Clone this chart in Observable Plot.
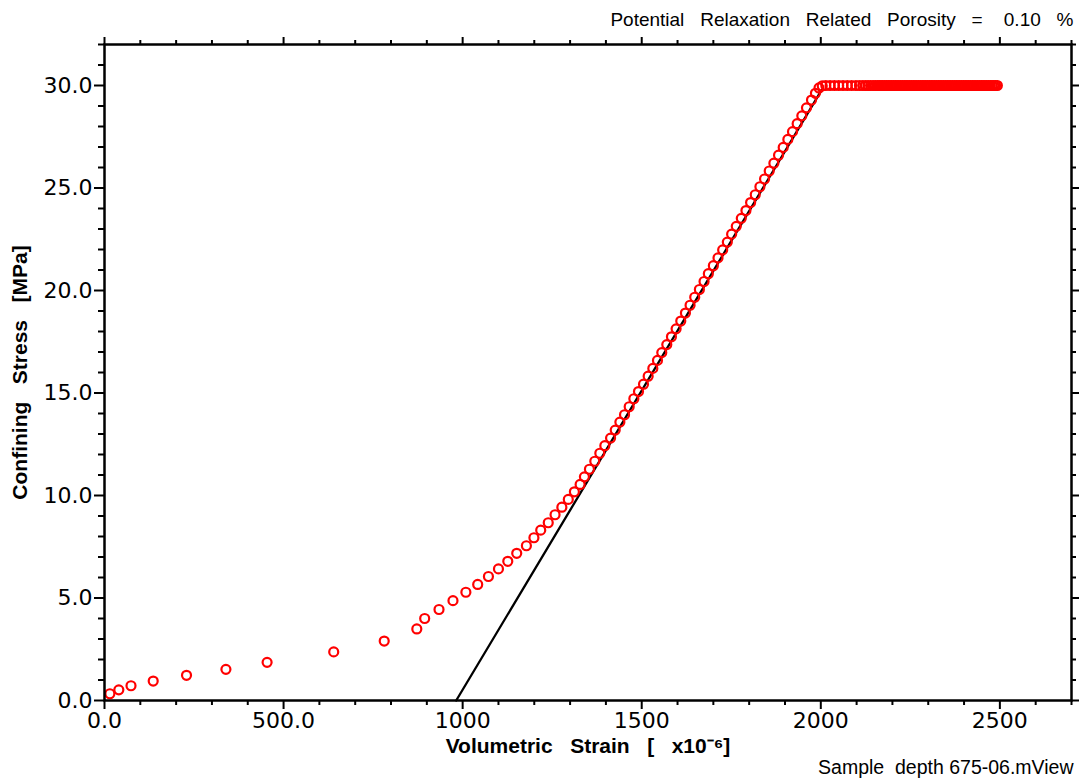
<!DOCTYPE html>
<html>
<head>
<meta charset="utf-8">
<script src="https://cdn.jsdelivr.net/npm/d3@7"></script>
<script src="https://cdn.jsdelivr.net/npm/@observablehq/plot@0.6"></script>
<style>
  html, body { margin: 0; padding: 0; background: #fff; }
  #chart svg { display: block; }
</style>
</head>
<body>
<div id="chart"></div>
<script>
// Measured loading curve: volumetric strain (x10^-6) vs confining stress (MPa)
const loadStrain = [15, 40, 74, 136, 229, 339, 454, 640, 781, 872, 894, 934, 973, 1009, 1042, 1072,
  1100, 1126, 1151, 1178, 1199, 1218, 1239, 1258, 1277, 1295, 1312, 1328, 1340, 1354, 1369, 1383,
  1397, 1413, 1426, 1439, 1452, 1465, 1478, 1491, 1505, 1518, 1531, 1544, 1556, 1570, 1583, 1596,
  1609, 1622, 1635, 1648, 1661, 1674, 1686, 1700, 1713, 1726, 1739, 1751, 1764, 1778, 1791, 1804,
  1817, 1830, 1843, 1856, 1869, 1882, 1895, 1908, 1921, 1934, 1947, 1960, 1974, 1985, 1995, 2004];
const loadStress = [0.33, 0.52, 0.72, 0.95, 1.23, 1.52, 1.86, 2.37, 2.90, 3.49, 4.00, 4.44, 4.87, 5.28, 5.66, 6.05,
  6.42, 6.79, 7.18, 7.55, 7.94, 8.31, 8.67, 9.06, 9.43, 9.81, 10.18, 10.54, 10.91, 11.28, 11.67, 12.06,
  12.43, 12.80, 13.19, 13.58, 13.94, 14.33, 14.72, 15.07, 15.43, 15.82, 16.20, 16.59, 16.97, 17.36, 17.74, 18.13,
  18.51, 18.90, 19.28, 19.67, 20.05, 20.44, 20.82, 21.21, 21.59, 21.98, 22.36, 22.75, 23.13, 23.52, 23.90, 24.29,
  24.67, 25.06, 25.44, 25.83, 26.21, 26.60, 26.98, 27.37, 27.75, 28.14, 28.52, 28.91, 29.29, 29.62, 29.88, 29.98];
// Hold at maximum stress
const holdStrain = [2014, 2026, 2038, 2050, 2062, 2074, 2086, 2098, 2108, 2117, 2125, 2132, 2139, 2146, 2152, 2158,
  2163, 2168, 2173, 2178, 2183, 2188, 2193, 2198, 2203, 2208, 2213, 2218, 2223, 2228, 2233, 2238,
  2243, 2248, 2253, 2258, 2263, 2268, 2273, 2278, 2283, 2288, 2293, 2298, 2303, 2308, 2313, 2318,
  2323, 2328, 2333, 2338, 2343, 2348, 2353, 2358, 2363, 2368, 2373, 2378, 2383, 2388, 2393, 2398,
  2403, 2408, 2413, 2418, 2423, 2428, 2433, 2438, 2443, 2448, 2453, 2458, 2463, 2468, 2473, 2478,
  2483, 2488, 2493];
const holdStress = [30.0, 30.0, 30.0, 30.0, 30.0, 30.0, 30.0, 30.0, 30.0, 30.0, 30.0, 30.0, 30.0, 30.0, 30.0, 30.0,
  30.0, 30.0, 30.0, 30.0, 30.0, 30.0, 30.0, 30.0, 30.0, 30.0, 30.0, 30.0, 30.0, 30.0, 30.0, 30.0,
  30.0, 30.0, 30.0, 30.0, 30.0, 30.0, 30.0, 30.0, 30.0, 30.0, 30.0, 30.0, 30.0, 30.0, 30.0, 30.0,
  30.0, 30.0, 30.0, 30.0, 30.0, 30.0, 30.0, 30.0, 30.0, 30.0, 30.0, 30.0, 30.0, 30.0, 30.0, 30.0,
  30.0, 30.0, 30.0, 30.0, 30.0, 30.0, 30.0, 30.0, 30.0, 30.0, 30.0, 30.0, 30.0, 30.0, 30.0, 30.0,
  30.0, 30.0, 30.0];
// Linear fit line
const fitStrain = [982, 2003];
const fitStress = [0, 29.8];

// Tick definitions
const xMajor = [0, 500, 1000, 1500, 2000, 2500];
const xMajorLabels = ["0.0", "500.0", "1000", "1500", "2000", "2500"];
const xMinor = [100, 200, 300, 400, 600, 700, 800, 900, 1100, 1200, 1300, 1400, 1600, 1700, 1800, 1900,
  2100, 2200, 2300, 2400, 2600, 2700];
const yMajor = [0, 5, 10, 15, 20, 25, 30];
const yMajorLabels = ["0.0", "5.0", "10.0", "15.0", "20.0", "25.0", "30.0"];
const yMinor = [1, 2, 3, 4, 6, 7, 8, 9, 11, 12, 13, 14, 16, 17, 18, 19, 21, 22, 23, 24, 26, 27, 28, 29, 31, 32];

const titleText = "Potential\u00a0\u00a0 Relaxation\u00a0\u00a0 Related\u00a0\u00a0 Porosity\u00a0\u00a0 =\u00a0\u00a0\u00a0 0.10\u00a0\u00a0 %";
const captionText = "Sample\u00a0 depth 675-06.mView";
const xLabel = "Volumetric\u00a0\u00a0 Strain\u00a0\u00a0 [\u00a0\u00a0 x10\u207b\u2076]";
const yLabel = "Confining\u00a0\u00a0 Stress\u00a0\u00a0 [MPa]";

const points = [
  ...loadStrain.map((x, i) => ({x, y: loadStress[i]})),
  ...holdStrain.map((x, i) => ({x, y: holdStress[i]}))
];
const fit = fitStrain.map((x, i) => ({x, y: fitStress[i]}));

const xLabMap = new Map(xMajor.map((v, i) => [v, xMajorLabels[i]]));
const yLabMap = new Map(yMajor.map((v, i) => [v, yMajorLabels[i]]));
const blank = () => "";
const tickFont = "'DejaVu Sans', sans-serif";

const chart = Plot.plot({
  width: 1083,
  height: 778,
  marginLeft: 104,
  marginRight: 12,
  marginTop: 44,
  marginBottom: 78,
  style: {fontFamily: "'Liberation Sans', Arial, sans-serif", fontSize: "18px", color: "#000", background: "#fff"},
  x: {domain: [0, 2700]},
  y: {domain: [0, 32]},
  marks: [
    Plot.line(fit, {x: "x", y: "y", stroke: "#000", strokeWidth: 2.3}),
    Plot.dot(points, {x: "x", y: "y", r: 4.5, stroke: "#f00", strokeWidth: 2.2, fill: "none"}),
    // bottom axis
    Plot.axisX({anchor: "bottom", ticks: xMajor, tickSize: 9, tickPadding: 3, strokeWidth: 2,
      tickFormat: d => xLabMap.get(d), fontSize: 22, fontFamily: tickFont, label: null}),
    Plot.axisX({anchor: "bottom", ticks: xMinor, tickSize: 5, strokeWidth: 2, tickFormat: blank, label: null}),
    // top axis
    Plot.axisX({anchor: "top", ticks: xMajor, tickSize: 8, strokeWidth: 2, tickFormat: blank, label: null}),
    Plot.axisX({anchor: "top", ticks: xMinor, tickSize: 5, strokeWidth: 2, tickFormat: blank, label: null}),
    // left axis
    Plot.axisY({anchor: "left", ticks: yMajor, tickSize: 10, tickPadding: 2, strokeWidth: 2,
      tickFormat: d => yLabMap.get(d), fontSize: 22, fontFamily: tickFont, label: null}),
    Plot.axisY({anchor: "left", ticks: yMinor, tickSize: 6, strokeWidth: 2, tickFormat: blank, label: null}),
    // right axis
    Plot.axisY({anchor: "right", ticks: yMajor, tickSize: 7, strokeWidth: 2, tickFormat: blank, label: null}),
    Plot.axisY({anchor: "right", ticks: yMinor, tickSize: 4, strokeWidth: 2, tickFormat: blank, label: null}),
    Plot.frame({stroke: "#000", strokeWidth: 2.5}),
    // axis titles
    Plot.text([xLabel], {frameAnchor: "bottom", dy: 46, lineAnchor: "middle", fontWeight: "bold", fontSize: 21, fill: "#000"}),
    Plot.text([yLabel], {frameAnchor: "left", dx: -84, rotate: -90, lineAnchor: "middle", textAnchor: "middle", fontWeight: "bold", fontSize: 21, fill: "#000"}),
    // title and caption
    Plot.text([titleText], {frameAnchor: "top-right", dx: 2, dy: -19, textAnchor: "end", lineAnchor: "bottom", fontSize: 19, fill: "#000"}),
    Plot.text([captionText], {frameAnchor: "bottom-right", dx: 2, dy: 73, textAnchor: "end", lineAnchor: "bottom", fontSize: 19.5, fill: "#000"})
  ]
});
document.getElementById("chart").appendChild(chart);
</script>
</body>
</html>
